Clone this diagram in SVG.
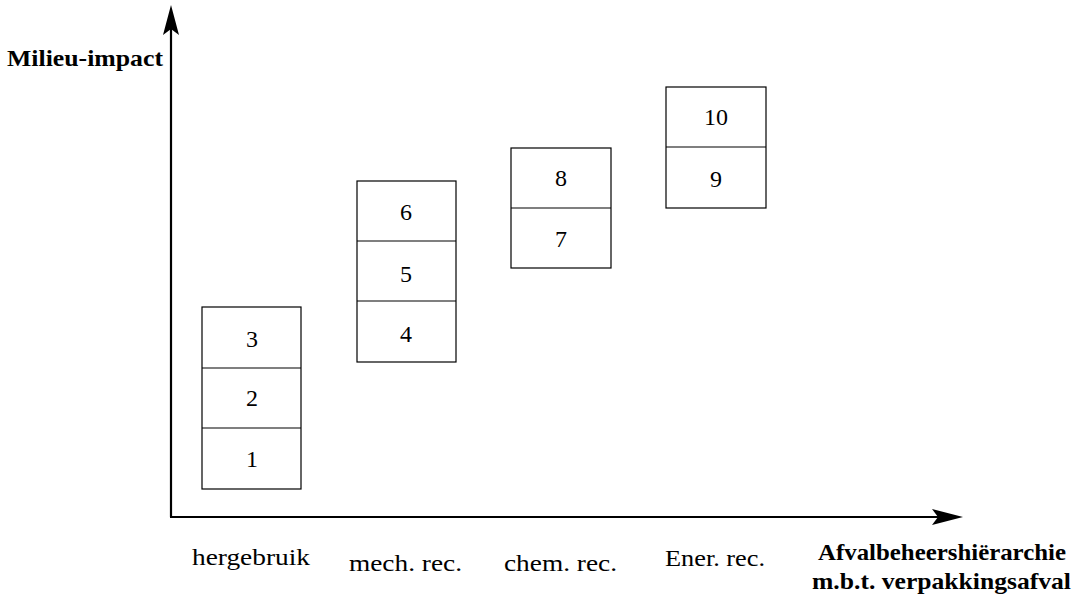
<svg xmlns="http://www.w3.org/2000/svg" width="1080" height="600" viewBox="0 0 1080 600">
<style>
.box{fill:#fff;stroke:#000;stroke-width:1.2}
.div{stroke:#000;stroke-width:1.2}
.num{font-family:"Liberation Serif","Times New Roman",serif;font-size:24px;text-anchor:middle;fill:#000}
.lab{font-family:"Liberation Serif","Times New Roman",serif;font-size:24px;fill:#000}
.bold{font-family:"Liberation Serif","Times New Roman",serif;font-size:23px;font-weight:bold;fill:#000}
.axis{stroke:#000;stroke-width:2.2;fill:none}
</style>
<rect width="1080" height="600" fill="#fff"/>
<g id="connectors">
<line class="axis" x1="171" y1="517" x2="171" y2="26"/>
<path d="M171,5 L179,35 L171,29 L163,35 Z" fill="#000"/>
<line class="axis" x1="170" y1="517" x2="942" y2="517"/>
<path d="M963,517 L932,525 L938,517 L932,509 Z" fill="#000"/>
</g>
<g id="col1">
<rect class="box" x="202" y="307" width="99" height="182"/>
<line class="div" x1="202" y1="368" x2="301" y2="368"/>
<line class="div" x1="202" y1="428" x2="301" y2="428"/>
<text class="num" x="252" y="347">3</text>
<text class="num" x="252" y="406">2</text>
<text class="num" x="252" y="467">1</text>
</g>
<g id="col2">
<rect class="box" x="357" y="181" width="99" height="181"/>
<line class="div" x1="357" y1="241" x2="456" y2="241"/>
<line class="div" x1="357" y1="301" x2="456" y2="301"/>
<text class="num" x="406" y="220">6</text>
<text class="num" x="406" y="282">5</text>
<text class="num" x="406" y="342">4</text>
</g>
<g id="col3">
<rect class="box" x="511" y="148" width="100" height="120"/>
<line class="div" x1="511" y1="208" x2="611" y2="208"/>
<text class="num" x="561" y="186">8</text>
<text class="num" x="561" y="247">7</text>
</g>
<g id="col4">
<rect class="box" x="666" y="87" width="100" height="121"/>
<line class="div" x1="666" y1="147" x2="766" y2="147"/>
<text class="num" x="716" y="125">10</text>
<text class="num" x="716" y="187">9</text>
</g>
<g id="labels">
<text class="bold" x="7" y="66" textLength="156" lengthAdjust="spacingAndGlyphs">Milieu-impact</text>
<text class="lab" x="192" y="565" textLength="118" lengthAdjust="spacingAndGlyphs">hergebruik</text>
<text class="lab" x="349" y="571" textLength="113" lengthAdjust="spacingAndGlyphs">mech. rec.</text>
<text class="lab" x="504" y="571" textLength="113" lengthAdjust="spacingAndGlyphs">chem. rec.</text>
<text class="lab" x="665" y="566" textLength="100" lengthAdjust="spacingAndGlyphs">Ener. rec.</text>
<text class="bold" x="818" y="560" textLength="248" lengthAdjust="spacingAndGlyphs">Afvalbeheershiërarchie</text>
<text class="bold" x="812" y="589" textLength="259" lengthAdjust="spacingAndGlyphs">m.b.t. verpakkingsafval</text>
</g>
</svg>
